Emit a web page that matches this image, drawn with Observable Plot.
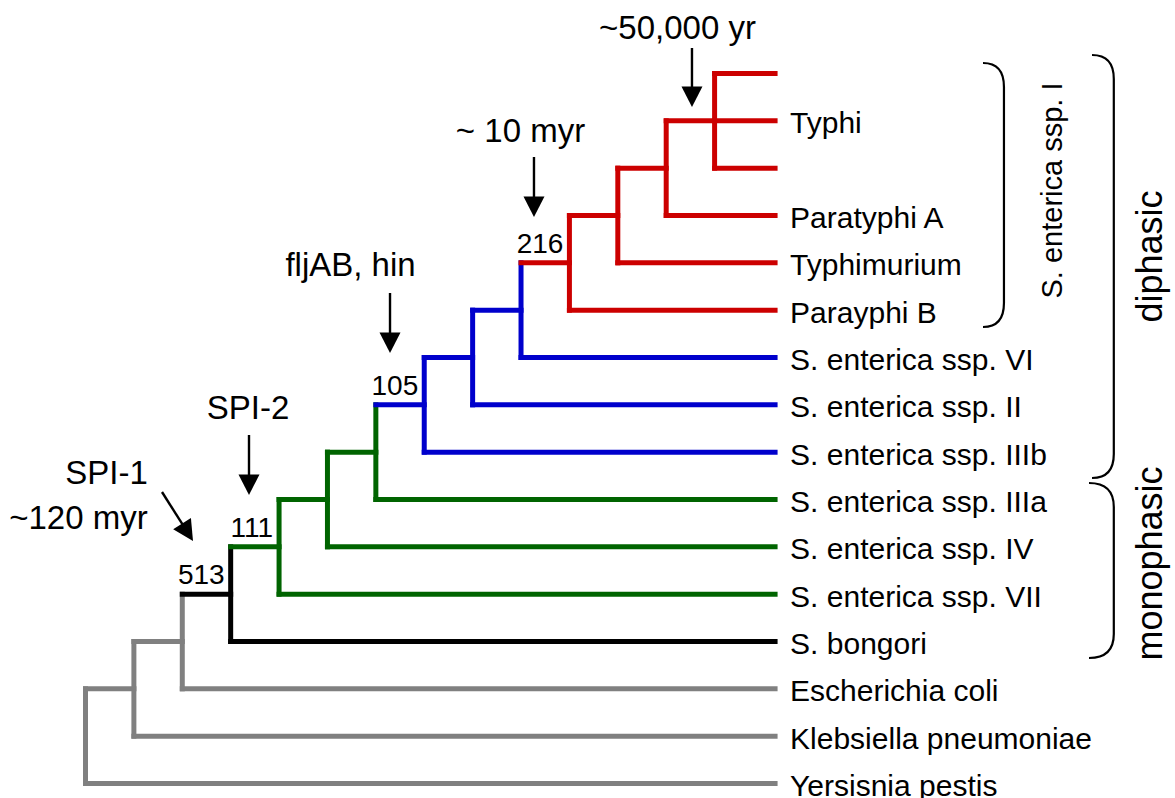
<!DOCTYPE html>
<html>
<head>
<meta charset="utf-8">
<script src="https://cdn.jsdelivr.net/npm/d3@7"></script>
<script src="https://cdn.jsdelivr.net/npm/@observablehq/plot@0.6"></script>
<style>
  body { margin: 0; background: #fff; }
  svg { display: block; }
</style>
</head>
<body>
<div id="chart"></div>
<script>
// ---------- Tree data (cladogram) ----------
const leafNames = ["", "Typhi", "", "Paratyphi A", "Typhimurium", "Parayphi B",
  "S. enterica ssp. VI", "S. enterica ssp. II", "S. enterica ssp. IIIb", "S. enterica ssp. IIIa",
  "S. enterica ssp. IV", "S. enterica ssp. VII", "S. bongori", "Escherichia coli",
  "Klebsiella pneumoniae", "Yersisnia pestis"];
const leafParent = ["A", "A", "A", "B", "C", "D", "E", "F", "G", "H", "I", "J", "K", "L", "M", "N"];
const leafClade = ["I", "I", "I", "I", "I", "I", "VI-IIIb", "VI-IIIb", "VI-IIIb",
  "IIIa-VII", "IIIa-VII", "IIIa-VII", "bongori", "out", "out", "out"];

const nodeIds = ["N", "M", "L", "K", "J", "I", "H", "G", "F", "E", "D", "C", "B", "A"];
const nodeParent = [null, "N", "M", "L", "K", "J", "I", "H", "G", "F", "E", "D", "C", "B"];
const nodeDepth = [0, 1, 2, 3, 4, 5, 6, 7, 8, 9, 10, 11, 12, 13];
const nodeClade = ["out", "out", "out", "bongori", "IIIa-VII", "IIIa-VII", "IIIa-VII",
  "VI-IIIb", "VI-IIIb", "VI-IIIb", "I", "I", "I", "I"];
const nodeSupport = [null, null, null, "513", "111", null, null, "105", null, null, "216", null, null, null];
const tipDepth = 14.25;

const cladeNames = ["I", "VI-IIIb", "IIIa-VII", "bongori", "out"];
const cladeColors = ["#cc0000", "#0000cc", "#006400", "#000000", "#808080"];

// ---------- Annotations (data units: depth, leaf row) ----------
const annotTexts = ["~50,000 yr", "~ 10 myr", "fljAB, hin", "SPI-2", "SPI-1", "~120 myr"];
const annotX = [12.233, 8.989, 5.476, 3.358, 0.434, -0.145];
const annotY = [-0.739, 1.437, 4.268, 7.289, 8.683, 9.613];

const arrowFromX = [12.543, 9.278, 6.303, 3.389, 1.591];
const arrowFromY = [-0.528, 1.775, 4.648, 7.648, 8.852];
const arrowToX = [12.543, 9.278, 6.303, 3.389, 2.232];
const arrowToY = [0.718, 3.042, 5.915, 8.915, 9.887];

const bracketX0 = [18.557, 20.81, 20.747];
const bracketX1 = [18.99, 21.26, 21.26];
const bracketY0 = [-0.211, -0.380, 8.662];
const bracketY1 = [5.366, 8.556, 12.359];

const sideLabels = ["S. enterica ssp. I", "diphasic", "monophasic"];
const sideX = [19.98, 22.01, 22.01];
const sideY = [2.472, 3.866, 10.352];

// ---------- Layout of the tree ----------
const pos = new Map();
leafNames.forEach((n, i) => pos.set("leaf" + i, {x: tipDepth, y: i}));
const childrenOf = id => [
  ...leafParent.map((p, i) => p === id ? "leaf" + i : null),
  ...nodeParent.map((p, j) => p === id ? nodeIds[j] : null)
].filter(Boolean);
for (let j = nodeIds.length - 1; j >= 0; j--) {
  const ys = childrenOf(nodeIds[j]).map(c => pos.get(c).y);
  const y1 = d3.min(ys), y2 = d3.max(ys);
  pos.set(nodeIds[j], {x: nodeDepth[j], y: (y1 + y2) / 2, y1, y2});
}

const hsegs = [];
leafNames.forEach((n, i) => {
  const p = pos.get(leafParent[i]);
  hsegs.push({x1: p.x, x2: tipDepth, y: i, clade: leafClade[i]});
});
nodeIds.forEach((id, j) => {
  if (nodeParent[j]) {
    const p = pos.get(nodeParent[j]), q = pos.get(id);
    hsegs.push({x1: p.x, x2: q.x, y: q.y, clade: nodeClade[j]});
  }
});
const vsegs = nodeIds.map((id, j) => ({x: nodeDepth[j], y1: pos.get(id).y1, y2: pos.get(id).y2, clade: nodeClade[j]}));
const supports = nodeIds.map((id, j) => ({label: nodeSupport[j], x: nodeDepth[j], y: pos.get(id).y}))
  .filter(d => d.label);
const leaves = leafNames.map((name, i) => ({name, x: tipDepth, y: i}));
const annots = annotTexts.map((t, i) => ({t, x: annotX[i], y: annotY[i]}));
const arrows = arrowFromX.map((x, i) => ({x1: x, y1: arrowFromY[i], x2: arrowToX[i], y2: arrowToY[i]}));
const brackets = bracketX0.map((x, i) => ({x0: x, x1: bracketX1[i], y0: bracketY0[i], y1: bracketY1[i]}));
const sides = sideLabels.map((t, i) => ({t, x: sideX[i], y: sideY[i]}));

const font = "'Liberation Sans', Arial, Helvetica, sans-serif";

// custom marks drawn through the plot's scales
function arrowMark(index, scales) {
  const g = d3.create("svg:g");
  for (const a of arrows) {
    const x1 = scales.x(a.x1), y1 = scales.y(a.y1), x2 = scales.x(a.x2), y2 = scales.y(a.y2);
    const dx = x2 - x1, dy = y2 - y1, L = Math.hypot(dx, dy), ux = dx / L, uy = dy / L;
    const hl = 20.5, hw = 10.5;
    const bx = x2 - ux * hl, by = y2 - uy * hl;
    g.append("line").attr("x1", x1).attr("y1", y1).attr("x2", bx + ux * 3).attr("y2", by + uy * 3)
      .attr("stroke", "#000").attr("stroke-width", 2.4);
    g.append("path")
      .attr("d", `M${x2},${y2}L${bx - uy * hw},${by + ux * hw}L${bx + uy * hw},${by - ux * hw}Z`)
      .attr("fill", "#000");
  }
  return g.node();
}
function bracketMark(index, scales) {
  const g = d3.create("svg:g");
  for (const b of brackets) {
    const x0 = scales.x(b.x0), x1 = scales.x(b.x1), y0 = scales.y(b.y0), y1 = scales.y(b.y1);
    const r = 24;
    g.append("path")
      .attr("d", `M${x0},${y0}Q${x1},${y0} ${x1},${y0 + r}L${x1},${y1 - r}Q${x1},${y1} ${x0},${y1}`)
      .attr("fill", "none").attr("stroke", "#000").attr("stroke-width", 2.2);
  }
  return g.node();
}

const chart = Plot.plot({
  width: 1175,
  height: 798,
  marginLeft: 85,
  marginRight: 398,
  marginTop: 73,
  marginBottom: 15,
  x: {domain: [0, 14.3], axis: null},
  y: {domain: [15, 0], axis: null},
  color: {domain: cladeNames, range: cladeColors},
  style: {fontFamily: font, background: "#fff", overflow: "visible"},
  marks: [
    Plot.link(vsegs, {x1: "x", x2: "x", y1: "y1", y2: "y2", stroke: "clade", strokeWidth: 5, strokeLinecap: "square"}),
    Plot.link(hsegs, {x1: "x1", x2: "x2", y1: "y", y2: "y", stroke: "clade", strokeWidth: 5, strokeLinecap: "square"}),
    Plot.text(supports, {x: "x", y: "y", text: "label", textAnchor: "end", lineAnchor: "bottom",
      dx: -6, dy: -10, fontSize: 28, fill: "#000", fontFamily: font}),
    Plot.text(leaves, {x: "x", y: "y", text: "name", textAnchor: "start", dx: 15, dy: 3,
      fontSize: 30, fill: "#000", fontFamily: font}),
    Plot.text(annots, {x: "x", y: "y", text: "t", textAnchor: "middle", lineAnchor: "bottom",
      fontSize: 33, fill: "#000", fontFamily: font}),
    Plot.text(sides.slice(0, 1), {x: "x", y: "y", text: "t", rotate: -90, fontSize: 29, fill: "#000", fontFamily: font}),
    Plot.text(sides.slice(1), {x: "x", y: "y", text: "t", rotate: -90, fontSize: 36, fill: "#000", fontFamily: font}),
    bracketMark,
    arrowMark
  ]
});
document.getElementById("chart").appendChild(chart);
</script>
</body>
</html>
